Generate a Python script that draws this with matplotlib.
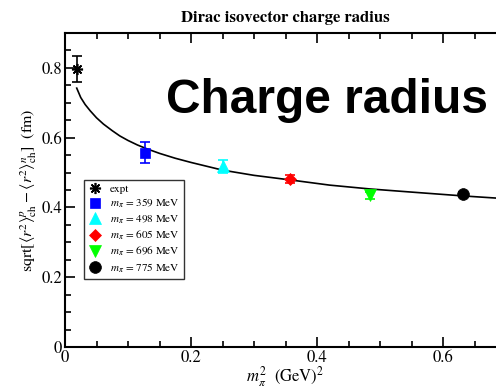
import numpy as np
import matplotlib
matplotlib.use('Agg')
import matplotlib.pyplot as plt
from matplotlib.ticker import MultipleLocator

plt.rcParams['font.family'] = ['STIXGeneral', 'DejaVu Serif']
plt.rcParams['mathtext.fontset'] = 'stix'

# data
mpi2 = [0.0186, 0.127, 0.251, 0.357, 0.484, 0.632]
radius = [0.797, 0.557, 0.518, 0.482, 0.435, 0.438]
err = [0.038, 0.031, 0.018, 0.012, 0.010, 0.006]
labels = ['expt', r'$m_\pi$ = 359 MeV', r'$m_\pi$ = 498 MeV', r'$m_\pi$ = 605 MeV',
          r'$m_\pi$ = 696 MeV', r'$m_\pi$ = 775 MeV']
colors = ['black', 'blue', 'cyan', 'red', '#00ff00', 'black']
markers = [(8, 2, 0), 's', '^', 'D', 'v', 'o']
msizes = [8, 7.5, 8, 6.5, 8, 8.5]

# fit curve
fit_x = [0.0186, 0.025, 0.032, 0.040, 0.050, 0.061, 0.075, 0.087, 0.100, 0.115,
         0.130, 0.150, 0.175, 0.200, 0.250, 0.300, 0.357, 0.420, 0.484, 0.550,
         0.632, 0.700]
fit_y = [0.742, 0.715, 0.695, 0.677, 0.657, 0.639, 0.620, 0.605, 0.592, 0.579,
         0.568, 0.555, 0.541, 0.529, 0.507, 0.492, 0.479, 0.464, 0.453, 0.444,
         0.433, 0.425]

fig = plt.figure(figsize=(4.96, 3.91), dpi=100)
ax = fig.add_axes([65/496, 1-347/391, 441/496, 314/391])

ax.plot(fit_x, fit_y, color='black', lw=1.2, zorder=1)
for i in range(len(mpi2)):
    ax.errorbar(mpi2[i], radius[i], yerr=err[i], fmt='none', ecolor=colors[i],
                elinewidth=1.2, capsize=3.5, capthick=1.2, zorder=2)
    ax.plot(mpi2[i], radius[i], ls='none', marker=markers[i], ms=msizes[i],
            color=colors[i], mec=colors[i], mew=1.2 if i == 0 else 0.5,
            label=labels[i], zorder=3)

ax.set_xlim(0, 0.7)
ax.set_ylim(0, 0.9)
ax.xaxis.set_minor_locator(MultipleLocator(0.05))
ax.yaxis.set_minor_locator(MultipleLocator(0.05))
ax.set_xticks([0, 0.2, 0.4, 0.6])
ax.set_xticklabels(['0', '0.2', '0.4', '0.6'])
ax.set_yticks([0, 0.2, 0.4, 0.6, 0.8])
ax.set_yticklabels(['0', '0.2', '0.4', '0.6', '0.8'])
ax.tick_params(which='both', direction='in', top=True, right=True,
               labelsize=12, width=1.2)
ax.tick_params(which='major', length=7, pad=2)
ax.tick_params(which='minor', length=4)
for s in ax.spines.values():
    s.set_linewidth(1.5)

ax.set_title('Dirac isovector charge radius', fontsize=12, fontweight='bold', pad=8)
ax.set_xlabel(r'$m_\pi^2$  (GeV)$^2$', fontsize=12, labelpad=-1)
ax.set_ylabel(r'sqrt$[\langle r^2\rangle^p_{\rm ch} - \langle r^2\rangle^n_{\rm ch}]$  (fm)',
              fontsize=11.5, labelpad=2)

ax.text(0.594, 0.745, 'Charge radius', transform=ax.transAxes, ha='center', va='baseline',
        fontsize=34.5, fontweight='bold', family='Liberation Sans')

leg = ax.legend(loc='upper left', bbox_to_anchor=(0.043, 0.532), fontsize=8,
                frameon=True, fancybox=False, borderaxespad=0, labelspacing=0.25,
                handlelength=1.2, handletextpad=0.7, borderpad=0.4, numpoints=1)
leg.get_frame().set_edgecolor('black')
leg.get_frame().set_linewidth(1.0)

fig.savefig('out.png', dpi=100)
